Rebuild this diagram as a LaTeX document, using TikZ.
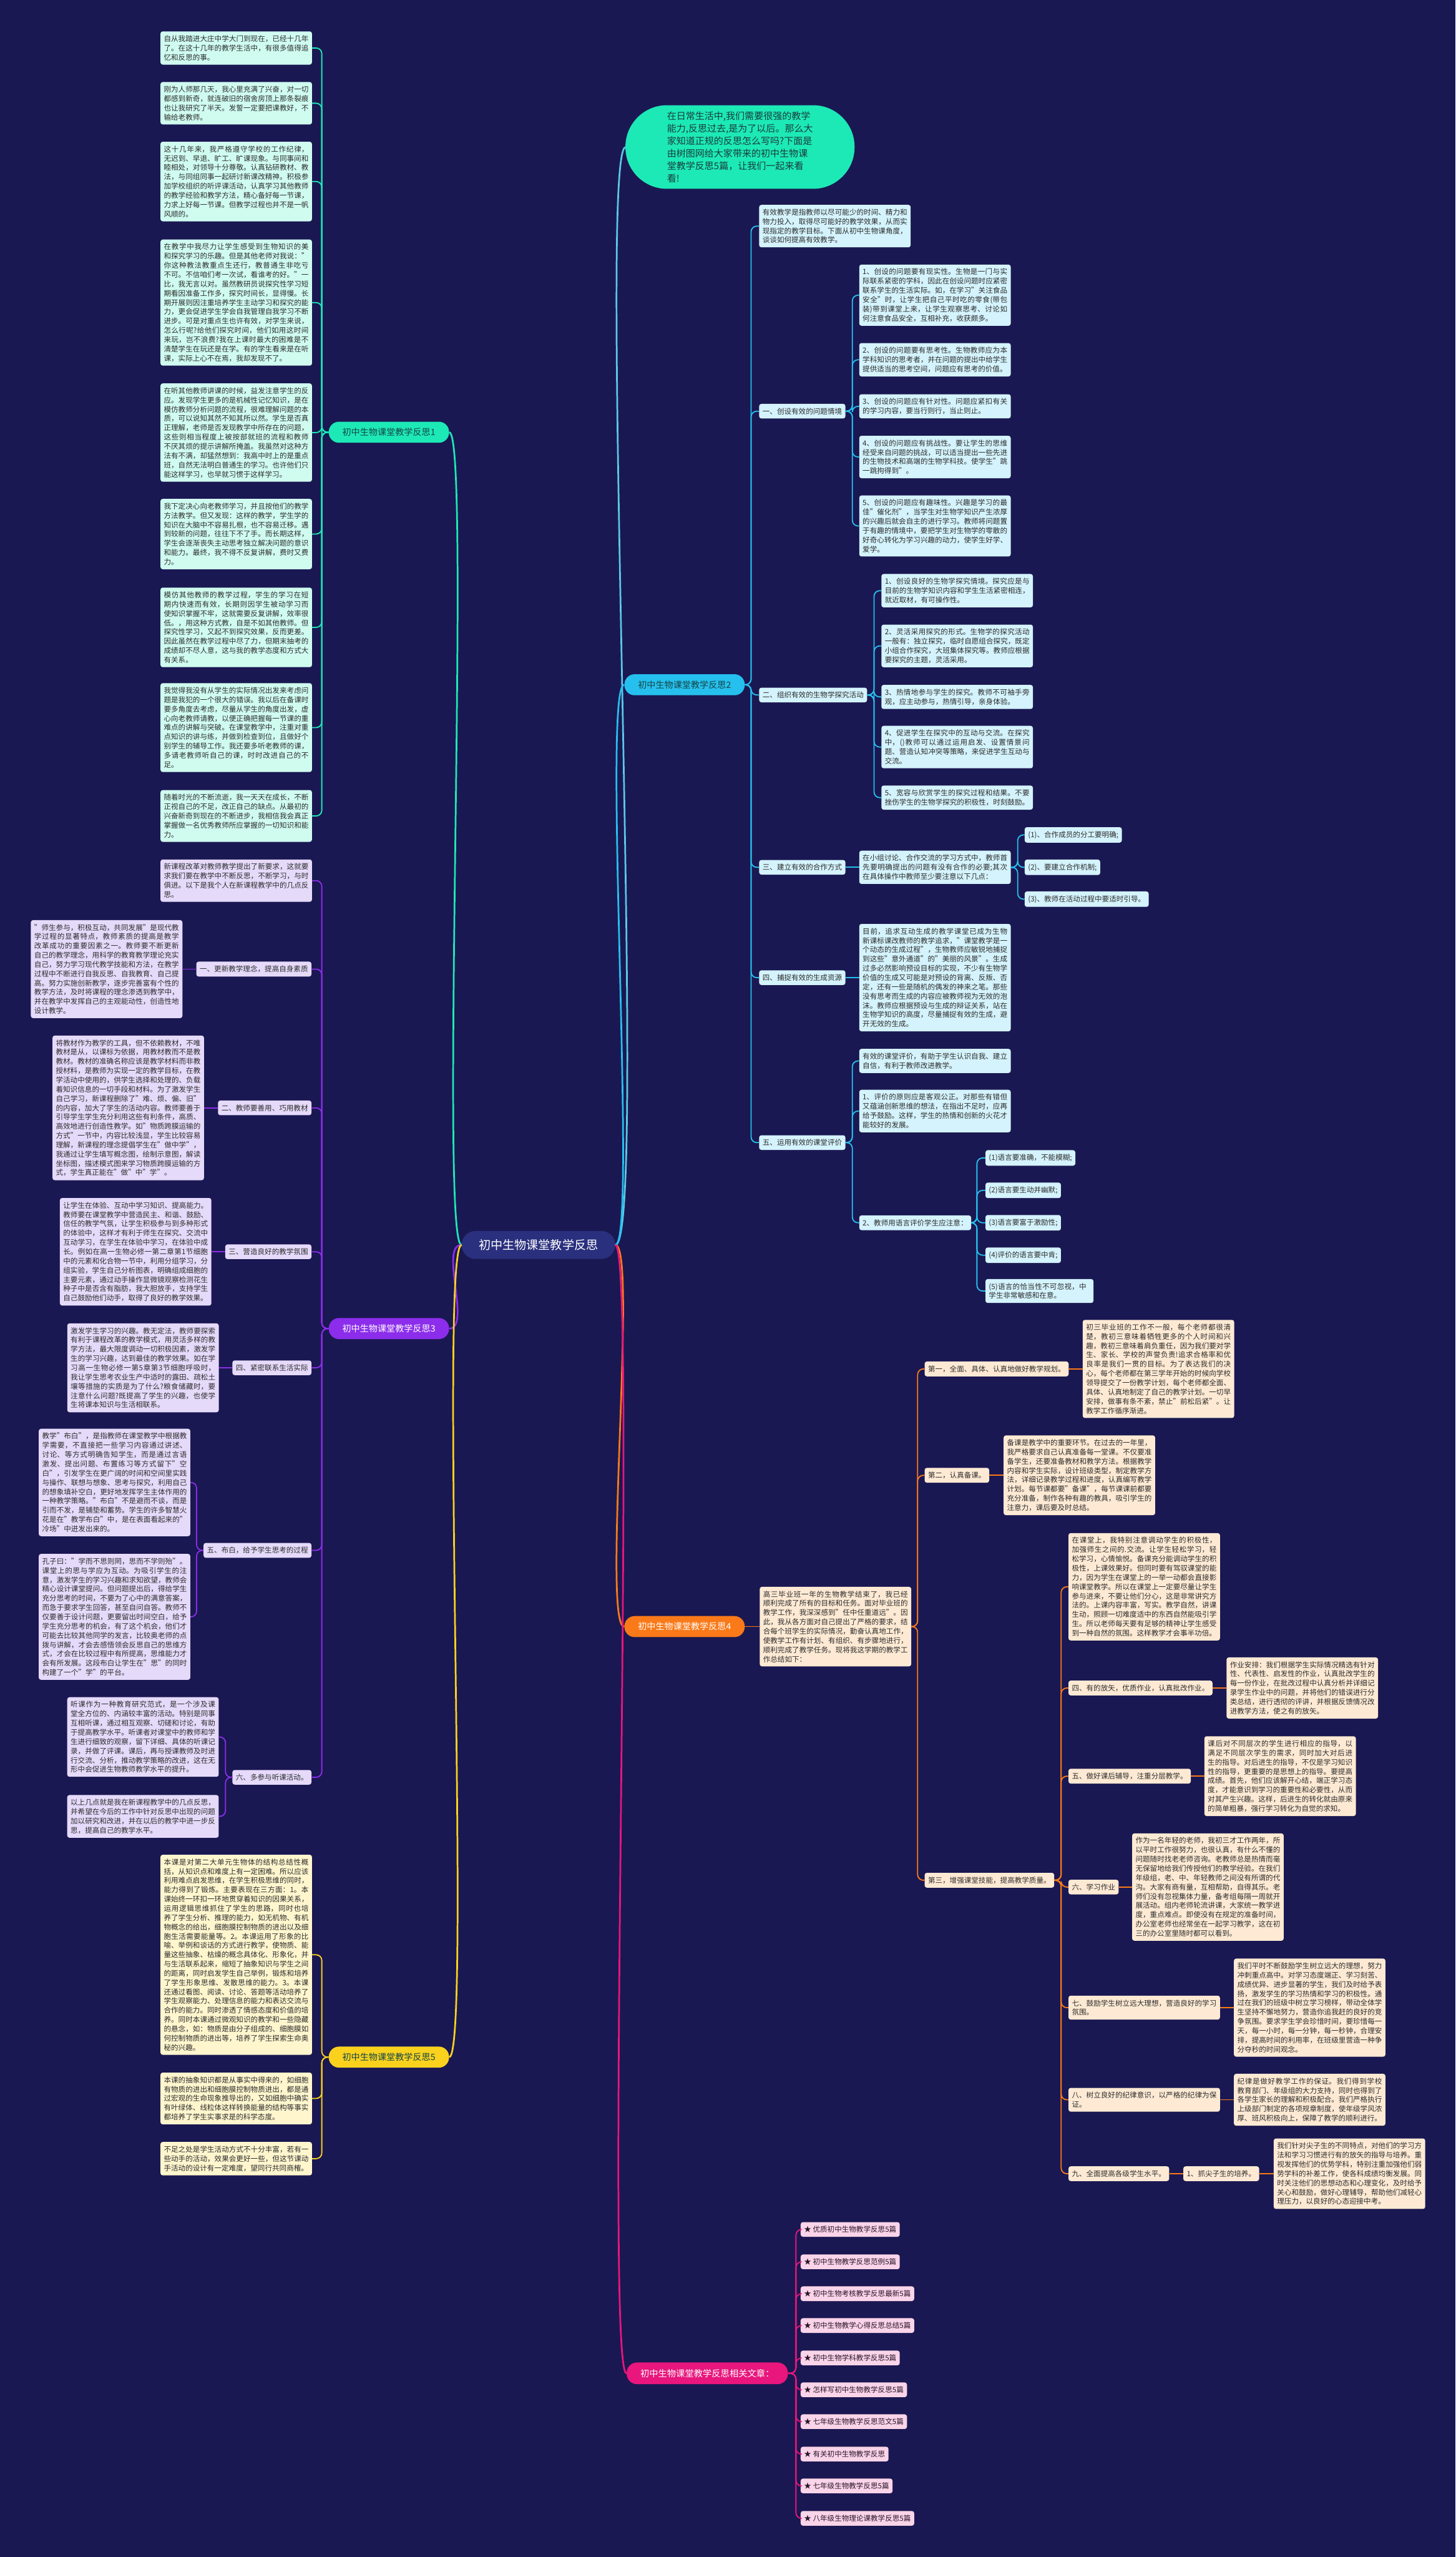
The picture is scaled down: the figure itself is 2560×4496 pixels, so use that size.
\documentclass[tikz,border=0pt]{standalone}
\usepackage{fontspec}
\setmainfont{Noto Sans CJK SC}
\XeTeXlinebreaklocale "zh"
\XeTeXlinebreakskip=0pt plus 1.2pt
\tolerance=9999
\emergencystretch=30pt
\hbadness=10000
\hfuzz=3pt
\definecolor{bgc}{RGB}{26,24,82}
\definecolor{txt}{RGB}{45,45,45}
\definecolor{rootc}{RGB}{42,48,125}
\definecolor{c0}{RGB}{90,200,230}
\definecolor{g1}{RGB}{29,233,182}
\definecolor{g1t}{RGB}{20,70,70}
\definecolor{f1}{RGB}{208,252,240}
\definecolor{g2}{RGB}{38,192,238}
\definecolor{f2}{RGB}{212,243,252}
\definecolor{g3}{RGB}{140,45,235}
\definecolor{f3}{RGB}{229,218,250}
\definecolor{g4}{RGB}{250,122,25}
\definecolor{f4}{RGB}{254,234,212}
\definecolor{g5}{RGB}{250,210,30}
\definecolor{f5}{RGB}{255,246,206}
\definecolor{g6}{RGB}{232,22,125}
\definecolor{f6}{RGB}{250,212,232}
\newcommand\fsn{\fontsize{12.7pt}{16.3pt}\selectfont}
\newcommand\fsl{\fontsize{15.5pt}{18pt}\selectfont}
\tikzset{
 box/.style={rounded corners=4pt, inner xsep=6pt, inner ysep=7pt, font=\fsn, text=txt},
 para/.style={box, text width=254.5pt, align=justify},
 pill/.style={rounded corners=18pt, minimum height=37pt, inner xsep=24pt, inner ysep=4pt, font=\fsl},
 mainln/.style={line width=3pt},
 subln/.style={line width=2pt, rounded corners=10pt},
}
\begin{document}
\begin{tikzpicture}[x=1pt,y=-1pt]
\fill[bgc] (0,0) rectangle (2560,4496);
\useasboundingbox (0,0) rectangle (2560,4496);

% ---------- root and intro ----------
\node[rounded corners=24pt, fill=rootc, text=white, minimum height=49pt, inner xsep=30pt, font=\fontsize{21pt}{24pt}\selectfont] (root) at (947,2189) {初中生物课堂教学反思};
\node[rounded corners=73pt, fill=g1, text={rgb,255:red,25;green,60;blue,60}, minimum width=403pt, minimum height=147pt, align=left, font=\fontsize{16.5pt}{22pt}\selectfont] (intro) at (1301.5,258.5)
 {在日常生活中,我们需要很强的教学\\能力,反思过去,是为了以后。那么大\\家知道正规的反思怎么写吗?下面是\\由树图网给大家带来的初中生物课\\堂教学反思5篇，让我们一起来看\\看!};

% ---------- branch 1 ----------
\node[pill, fill=g1, text=g1t, anchor=east] (b1) at (790,760) {初中生物课堂教学反思1};
\begin{scope}[every node/.style={para, fill=f1, anchor=north west}]
\node (l1a) at (282,55) {自从我踏进大庄中学大门到现在，已经十几年了。在这十几年的教学生活中，有很多值得追忆和反思的事。};
\node (l1b) at (282,144) {刚为人师那几天，我心里充满了兴奋，对一切都感到新奇，就连破旧的宿舍房顶上那条裂痕也让我研究了半天。发誓一定要把课教好，不输给老教师。};
\node (l1c) at (282,249) {这十几年来，我严格遵守学校的工作纪律，无迟到、早退、旷工、旷课现象。与同事间和睦相处，对领导十分尊敬。认真钻研教材、教法，与同组同事一起研讨新课改精神。积极参加学校组织的听评课活动，认真学习其他教师的教学经验和教学方法，精心备好每一节课，力求上好每一节课。但教学过程也并不是一帆风顺的。};
\node (l1d) at (282,421) {在教学中我尽力让学生感受到生物知识的美和探究学习的乐趣。但是其他老师对我说："你这种教法教重点生还行，教普通生非吃亏不可。不信咱们考一次试，看谁考的好。"一比，我无言以对。虽然教研员说探究性学习短期看因准备工作多，探究时间长，显得慢。长期开展则因注重培养学生主动学习和探究的能力，更会促进学生学会自我管理自我学习不断进步。可是对重点生也许有效，对学生来说，怎么行呢?给他们探究时间，他们如用这时间来玩，岂不浪费?我在上课时最大的困难是不清楚学生在玩还是在学。有的学生看来是在听课，实际上心不在焉，我却发现不了。};
\node (l1e) at (282,674) {在听其他教师讲课的时候，益发注意学生的反应。发现学生更多的是机械性记忆知识，是在模仿教师分析问题的流程，很难理解问题的本质，可以说知其然不知其所以然。学生是否真正理解，老师是否发现教学中所存在的问题，这些则相当程度上被按部就班的流程和教师不厌其烦的提示讲解所掩盖。我虽然对这种方法有不满，却猛然想到：我高中时上的是重点班，自然无法明白普通生的学习。也许他们只能这样学习，也早就习惯于这样学习。};
\node (l1f) at (282,877) {我下定决心向老教师学习，并且按他们的教学方法教学。但又发现：这样的教学，学生学的知识在大脑中不容易扎根，也不容易迁移。遇到较新的问题，往往下不了手。而长期这样，学生会逐渐丧失主动思考独立解决问题的意识和能力。最终，我不得不反复讲解，费时又费力。};
\node (l1g) at (282,1033) {模仿其他教师的教学过程，学生的学习在短期内快速而有效，长期则因学生被动学习而使知识掌握不牢，这就需要反复讲解，效率很低。，用这种方式教，自是不如其他教师。但探究性学习，又起不到探究效果，反而更差。因此虽然在教学过程中尽了力，但期末抽考的成绩却不尽人意，这与我的教学态度和方式大有关系。};
\node (l1h) at (282,1201) {我觉得我没有从学生的实际情况出发来考虑问题是我犯的一个很大的错误。我以后在备课时要多角度去考虑，尽量从学生的角度出发，虚心向老教师请教，以便正确把握每一节课的重难点的讲解与突破。在课堂教学中，注重对重点知识的讲与练，并做到检查到位，且做好个别学生的辅导工作。我还要多听老教师的课，多请老教师听自己的课，时时改进自己的不足。};
\node (l1i) at (282,1389) {随着时光的不断流逝，我一天天在成长，不断正视自己的不足，改正自己的缺点。从最初的兴奋新奇到现在的不断进步，我相信我会真正掌握做一名优秀教师所应掌握的一切知识和能力。};
\end{scope}

% ---------- branch 3 ----------
\node[pill, fill=g3, text=white, anchor=east] (b3) at (790,2336) {初中生物课堂教学反思3};
\node[para, fill=f3, anchor=north west] (l3i) at (282,1511) {新课程改革对教师教学提出了新要求，这就要求我们要在教学中不断反思，不断学习，与时俱进。以下是我个人在新课程教学中的几点反思。};
\begin{scope}[every node/.style={box, fill=f3, anchor=east}]
\node (s31) at (548,1704) {一、更新教学理念，提高自身素质};
\node (s32) at (548,1948) {二、教师要善用、巧用教材};
\node (s33) at (548,2201) {三、营造良好的教学氛围};
\node (s34) at (548,2405) {四、紧密联系生活实际};
\node (s35) at (548,2726) {五、布白，给予学生思考的过程};
\node (s36) at (548,3125) {六、多参与听课活动。};
\end{scope}
\node[para, fill=f3, anchor=east] (l31) at (321,1704) {"师生参与，积极互动，共同发展"是现代教学过程的显著特点，教师素质的提高是教学改革成功的重要因素之一。教师要不断更新自己的教学理念，用科学的教育教学理论充实自己，努力学习现代教学技能和方法，在教学过程中不断进行自我反思、自我教育、自己提高。努力实施创新教学，逐步完善富有个性的教学方法，及时将课程的理念渗透到教学中，并在教学中发挥自己的主观能动性，创造性地设计教学。};
\node[para, fill=f3, anchor=east] (l32) at (359,1948) {将教材作为教学的工具，但不依赖教材，不唯教材是从，以课标为依据，用教材教而不是教教材。教材的准确名称应该是教学材料而非教授材料，是教师为实现一定的教学目标，在教学活动中使用的，供学生选择和处理的、负载着知识信息的一切手段和材料。为了激发学生自己学习，新课程删除了"难、烦、偏、旧"的内容，加大了学生的活动内容。教师要善于引导学生学生充分利用这些有利条件，高质、高效地进行创造性教学。如"物质跨膜运输的方式"一节中，内容比较浅显，学生比较容易理解，新课程的理念提倡学生在"做中学"，我通过让学生填写概念图，绘制示意图，解读坐标图，描述模式图来学习物质跨膜运输的方式，学生真正能在"做"中"学"。};
\node[para, fill=f3, anchor=east] (l33) at (372,2201) {让学生在体验、互动中学习知识、提高能力。教师要在课堂教学中营造民主、和谐、鼓励、信任的教学气氛，让学生积极参与到多种形式的体验中，这样才有利于师生在探究、交流中互动学习，在学生在体验中学习，在体验中成长。例如在高一生物必修一第二章第1节细胞中的元素和化合物一节中，利用分组学习，分组实验，学生自己分析图表，明确组成细胞的主要元素，通过动手操作显微镜观察检测花生种子中是否含有脂肪，我大胆放手，支持学生自己鼓励他们动手，取得了良好的教学效果。};
\node[para, fill=f3, anchor=east] (l34) at (385,2405) {激发学生学习的兴趣。教无定法，教师要探索有利于课程改革的教学模式，用灵活多样的教学方法，最大限度调动一切积极因素，激发学生的学习兴趣，达到最佳的教学效果。如在学习高一生物必修一第5章第3节细胞呼吸时，我让学生思考农业生产中适时的露田、疏松土壤等措施的实质是为了什么?粮食储藏时，要注意什么问题?既提高了学生的兴趣，也使学生将课本知识与生活相联系。};
\node[para, fill=f3, anchor=north west] (l35a) at (68,2512) {教学"布白"，是指教师在课堂教学中根据教学需要，不直接把一些学习内容通过讲述、讨论、等方式明确告知学生，而是通过言语激发、提出问题、布置练习等方式留下"空白"，引发学生在更广阔的时间和空间里实践与操作、联想与想象、思考与探究，利用自己的想象填补空白，更好地发挥学生主体作用的一种教学策略。"布白"不是避而不谈，而是引而不发，是铺垫和蓄势。学生的许多智慧火花是在"教学布白"中，是在表面看起来的"冷场"中迸发出来的。};
\node[para, fill=f3, anchor=north west] (l35b) at (68,2732) {孔子曰："学而不思则罔，思而不学则殆"。课堂上的思与学应为互动。为吸引学生的注意，激发学生的学习兴趣和求知欲望，教师会精心设计课堂提问。但问题提出后，得给学生充分思考的时间，不要为了心中的满意答案，而急于要求学生回答，甚至自问自答。教师不仅要善于设计问题，更要留出时间空白，给予学生充分思考的机会，有了这个机会，他们才可能去比较其他同学的发言，比较奥老师的点拨与讲解，才会去感悟领会反思自己的思维方式，才会在比较过程中有所提高，思维能力才会有所发展。这段布白让学生在"思"的同时构建了一个"学"的平台。};
\node[para, fill=f3, anchor=north west] (l36a) at (118,2984) {听课作为一种教育研究范式，是一个涉及课堂全方位的、内涵较丰富的活动。特别是同事互相听课，通过相互观察、切磋和讨论，有助于提高教学水平。听课者对课堂中的教师和学生进行细致的观察，留下详细、具体的听课记录，并做了评课。课后，再与授课教师及时进行交流、分析，推动教学策略的改进，这在无形中会促进生物教师教学水平的提升。};
\node[para, fill=f3, anchor=north west] (l36b) at (118,3156) {以上几点就是我在新课程教学中的几点反思，并希望在今后的工作中针对反思中出现的问题加以研究和改进，并在以后的教学中进一步反思，提高自己的教学水平。};

% ---------- branch 5 ----------
\node[pill, fill=g5, text=g1t, anchor=east] (b5) at (790,3617) {初中生物课堂教学反思5};
\begin{scope}[every node/.style={para, fill=f5, anchor=north west}]
\node (l5a) at (282,3261) {本课是对第二大单元生物体的结构总结性概括，从知识点和难度上有一定困难。所以应该利用难点启发思维，在学生积极思维的同时，能力得到了锻炼。主要表现在三方面：1。本课始终一环扣一环地贯穿着知识的因果关系，运用逻辑思维抓住了学生的思路，同时也培养了学生分析、推理的能力，如无机物、有机物概念的给出，细胞膜控制物质的进出以及细胞生活需要能量等。2。本课运用了形象的比喻、举例和谈话的方式进行教学，使物质、能量这些抽象、枯燥的概念具体化、形象化，并与生活联系起来，缩短了抽象知识与学生之间的距离，同时启发学生自己举例，锻炼和培养了学生形象思维、发散思维的能力。3。本课还通过看图、阅读、讨论、答题等活动培养了学生观察能力、处理信息的能力和表达交流与合作的能力。同时渗透了情感态度和价值的培养。同时本课通过微观知识的教学和一些隐藏的悬念，如：物质是由分子组成的、细胞膜如何控制物质的进出等，培养了学生探索生命奥秘的兴趣。};
\node (l5b) at (282,3644) {本课的抽象知识都是从事实中得来的，如细胞有物质的进出和细胞膜控制物质进出，都是通过宏观的生命现象推导出的，又如细胞中确实有叶绿体、线粒体这样转换能量的结构等事实都培养了学生实事求是的科学态度。};
\node (l5c) at (282,3766) {不足之处是学生活动方式不十分丰富，若有一些动手的活动，效果会更好一些，但这节课动手活动的设计有一定难度，望同行共同商榷。};
\end{scope}

% ---------- branch 2 ----------
\node[pill, fill=g2, text=g1t, anchor=west] (b2) at (1098,1204) {初中生物课堂教学反思2};
\node[para, fill=f2, anchor=north west] (l2i) at (1335,360) {有效教学是指教师以尽可能少的时间、精力和物力投入，取得尽可能好的教学效果，从而实现指定的教学目标。下面从初中生物课角度，谈谈如何提高有效教学。};
\begin{scope}[every node/.style={box, fill=f2, anchor=west}]
\node (s21) at (1335,723) {一、创设有效的问题情境};
\node (s22) at (1335,1222) {二、组织有效的生物学探究活动};
\node (s23) at (1335,1525) {三、建立有效的合作方式};
\node (s24) at (1335,1719) {四、捕捉有效的生成资源};
\node (s25) at (1335,2009) {五、运用有效的课堂评价};
\node (l23a) at (1802,1468) {(1)、合作成员的分工要明确;};
\node (l23b) at (1802,1525) {(2)、要建立合作机制;};
\node (l23c) at (1802,1581) {(3)、教师在活动过程中要适时引导。};
\node (l25c) at (1511,2150) {2、教师用语言评价学生应注意：};
\node (l25c1) at (1733,2036) {(1)语言要准确，不能模糊;};
\node (l25c2) at (1733,2093) {(2)语言要生动并幽默;};
\node (l25c3) at (1733,2150) {(3)语言要富于激励性;};
\node (l25c4) at (1733,2207) {(4)评价的语言要中肯;};
\end{scope}
\node[box, fill=f2, anchor=west, text width=178pt, align=left] (l25c5) at (1733,2270) {(5)语言的恰当性不可忽视，中学生非常敏感和在意。};
\begin{scope}[every node/.style={para, fill=f2, anchor=north west}]
\node (l21a) at (1511,465) {1、创设的问题要有现实性。生物是一门与实际联系紧密的学科，因此在创设问题时应紧密联系学生的生活实际。如，在学习"关注食品安全"时，让学生把自己平时吃的零食(带包装)带到课堂上来，让学生观察思考、讨论如何注意食品安全，互相补充，收获颇多。};
\node (l21b) at (1511,603) {2、创设的问题要有思考性。生物教师应为本学科知识的思考者，并在问题的提出中给学生提供适当的思考空间，问题应有思考的价值。};
\node (l21c) at (1511,693) {3、创设的问题应有针对性。问题应紧扣有关的学习内容，要当行则行，当止则止。};
\node (l21d) at (1511,766) {4、创设的问题应有挑战性。要让学生的思维经受来自问题的挑战，可以适当提出一些先进的生物技术和高端的生物学科技。使学生"跳一跳拘得到"。};
\node (l21e) at (1511,871) {5、创设的问题应有趣味性。兴趣是学习的最佳"催化剂"，当学生对生物学知识产生浓厚的兴趣后就会自主的进行学习。教师将问题置于有趣的情境中，要把学生对生物学的零散的好奇心转化为学习兴趣的动力，使学生好学、爱学。};
\node (l22a) at (1550,1009) {1、创设良好的生物学探究情境。探究应是与目前的生物学知识内容和学生生活紧密相连，就近取材，有可操作性。};
\node (l22b) at (1550,1098) {2、灵活采用探究的形式。生物学的探究活动一般有：独立探究，临时自愿组合探究，既定小组合作探究，大班集体探究等。教师应根据要探究的主题，灵活采用。};
\node (l22c) at (1550,1204) {3、热情地参与学生的探究。教师不可袖手旁观，应主动参与，热情引导，亲身体验。};
\node (l22d) at (1550,1276) {4、促进学生在探究中的互动与交流。在探究中，()教师可以通过运用启发、设置情景问题、营造认知冲突等策略，来促进学生互动与交流。};
\node (l22e) at (1550,1381) {5、宽容与欣赏学生的探究过程和结果。不要挫伤学生的生物学探究的积极性，时刻鼓励。};
\node (l25a) at (1511,1844) {有效的课堂评价，有助于学生认识自我、建立自信，有利于教师改进教学。};
\node (l25b) at (1511,1916) {1、评价的原则应是客观公正。对那些有错但又蕴涵创新思维的想法，在指出不足时，应再给予鼓励。这样，学生的热情和创新的火花才能较好的发展。};
\end{scope}
\node[para, fill=f2, anchor=west] (l23) at (1511,1525) {在小组讨论、合作交流的学习方式中，教师首先要明确提出的问题有没有合作的必要;其次在具体操作中教师至少要注意以下几点：};
\node[para, fill=f2, anchor=west] (l24) at (1511,1719) {目前，追求互动生成的教学课堂已成为生物新课标课改教师的教学追求，"课堂教学是一个动态的生成过程"，生物教师应敏锐地捕捉到这些"意外通道"的"美丽的风景"。生成过多必然影响预设目标的实现，不少有生物学价值的生成又可能是对预设的背离、反叛、否定，还有一些是随机的偶发的神来之笔。那些没有思考而生成的内容应被教师视为无效的泡沫。教师应根据预设与生成的辩证关系，站在生物学知识的高度，尽量捕捉有效的生成，避开无效的生成。};

% ---------- branch 4 ----------
\node[pill, fill=g4, text=white, anchor=west] (b4) at (1098,2860) {初中生物课堂教学反思4};
\node[para, fill=f4, anchor=west] (r4) at (1336,2860) {高三毕业班一年的生物教学结束了，我已经顺利完成了所有的目标和任务。面对毕业班的教学工作，我深深感到"任中任重道远"。因此，我从各方面对自己提出了严格的要求，结合每个班学生的实际情况，勤奋认真地工作，使教学工作有计划、有组织、有步骤地进行，顺利完成了教学任务。现将我这学期的教学工作总结如下：};
\begin{scope}[every node/.style={box, fill=f4, anchor=west}]
\node (s41) at (1626,2407) {第一，全面、具体、认真地做好教学规划。};
\node (s42) at (1626,2594) {第二，认真备课。};
\node (s43) at (1626,3306) {第三，增强课堂技能，提高教学质量。};
\node (s44) at (1879,2968) {四、有的放矢，优质作业，认真批改作业。};
\node (s45) at (1879,3123) {五、做好课后辅导，注重分层教学。};
\node (s46) at (1879,3318) {六、学习作业};
\node (s49) at (1879,3822) {九、全面提高各级学生水平。};
\node (s49a) at (2081,3822) {1、抓尖子生的培养。};
\end{scope}
\begin{scope}[every node/.style={para, fill=f4, anchor=west}]
\node (s47) at (1879,3530) {七、鼓励学生树立远大理想，营造良好的学习氛围。};
\node (s48) at (1879,3692) {八、树立良好的纪律意识，以严格的纪律为保证。};
\node (t41) at (1904,2407) {初三毕业班的工作不一般，每个老师都很清楚，教初三意味着牺牲更多的个人时间和兴趣，教初三意味着肩负重任，因为我们要对学生、家长、学校的声誉负责!追求合格率和优良率是我们一贯的目标。为了表达我们的决心，每个老师都在第三学年开始的时候向学校领导提交了一份教学计划，每个老师都全面、具体、认真地制定了自己的教学计划。一切早安排，做事有条不紊，禁止"前松后紧"。让教学工作循序渐进。};
\node (t42) at (1765,2594) {备课是教学中的重要环节。在过去的一年里，我严格要求自己认真准备每一堂课。不仅要准备学生，还要准备教材和教学方法。根据教学内容和学生实际，设计班级类型，制定教学方法，详细记录教学过程和进度，认真编写教学计划。每节课都要"备课"，每节课课前都要充分准备，制作各种有趣的教具，吸引学生的注意力，课后要及时总结。};
\node (t43a) at (1879,2790) {在课堂上，我特别注意调动学生的积极性，加强师生之间的.交流。让学生轻松学习，轻松学习，心情愉悦。备课充分能调动学生的积极性，上课效果好。但同时要有驾驭课堂的能力，因为学生在课堂上的一举一动都会直接影响课堂教学。所以在课堂上一定要尽量让学生参与进来，不要让他们分心，这是非常讲究方法的。上课内容丰富，写实。教学自然，讲课生动，照顾一切难度适中的东西自然能吸引学生。所以老师每天要有足够的精神让学生感受到一种自然的氛围。这样教学才会事半功倍。};
\node (t44) at (2157,2968) {作业安排：我们根据学生实际情况精选有针对性、代表性、启发性的作业，认真批改学生的每一份作业，在批改过程中认真分析并详细记录学生作业中的问题，并将他们的错误进行分类总结，进行透彻的评讲，并根据反馈情况改进教学方法，使之有的放矢。};
\node (t45) at (2118,3123) {课后对不同层次的学生进行相应的指导，以满足不同层次学生的需求，同时加大对后进生的指导。对后进生的指导，不仅是学习知识性的指导，更重要的是思想上的指导。要提高成绩。首先，他们应该解开心结，端正学习态度，才能意识到学习的重要性和必要性，从而对其产生兴趣。这样，后进生的转化就由原来的简单粗暴，强行学习转化为自觉的求知。};
\node (t46) at (1991,3318) {作为一名年轻的老师，我初三才工作两年，所以平时工作很努力，也很认真，有什么不懂的问题随时找老老师咨询。老教师总是热情而毫无保留地给我们传授他们的教学经验。在我们年级组，老、中、年轻教师之间没有所谓的代沟。大家有商有量，互相帮助，自得其乐。老师们没有忽视集体力量，备考组每隔一周就开展活动。组内老师轮流讲课，大家统一教学进度，重点难点。即使没有在规定的准备时间，办公室老师也经常坐在一起学习教学，这在初三的办公室里随时都可以看到。};
\node (t47) at (2170,3530) {我们平时不断鼓励学生树立远大的理想，努力冲刺重点高中。对学习态度端正、学习刻苦、成绩优异、进步显著的学生，我们及时给予表扬，激发学生的学习热情和学习的积极性。通过在我们的班级中树立学习榜样，带动全体学生坚持不懈地努力，营造你追我赶的良好的竞争氛围。要求学生学会珍惜时间，要珍惜每一天，每一小时，每一分钟，每一秒钟，合理安排，提高时间的利用率，在班级里营造一种争分夺秒的时间观念。};
\node (t48) at (2170,3692) {纪律是做好教学工作的保证。我们得到学校教育部门、年级组的大力支持，同时也得到了各学生家长的理解和积极配合。我们严格执行上级部门制定的各项规章制度，使年级学风浓厚、班风积极向上，保障了教学的顺利进行。};
\node (t49) at (2240,3822) {我们针对尖子生的不同特点，对他们的学习方法和学习习惯进行有的放矢的指导与培养。重视发挥他们的优势学科，特别注重加强他们弱势学科的补差工作，使各科成绩均衡发展。同时关注他们的思想动态和心理变化，及时给予关心和鼓励，做好心理辅导，帮助他们减轻心理压力，以良好的心态迎接中考。};
\end{scope}

% ---------- related articles ----------
\node[pill, fill=g6, text=white, anchor=west, minimum height=38pt, font=\fontsize{15.7pt}{18pt}\selectfont] (b6) at (1102,4173) {初中生物课堂教学反思相关文章：};
\begin{scope}[every node/.style={box, fill=f6, anchor=west, text={rgb,255:red,40;green,20;blue,40}}]
\node (r1) at (1408,3920) {★ 优质初中生物教学反思5篇};
\node (r2) at (1408,3977) {★ 初中生物教学反思范例5篇};
\node (r3) at (1408,4033) {★ 初中生物考核教学反思最新5篇};
\node (r4b) at (1408,4089) {★ 初中生物教学心得反思总结5篇};
\node (r5) at (1408,4146) {★ 初中生物学科教学反思5篇};
\node (r6) at (1408,4202) {★ 怎样写初中生物教学反思5篇};
\node (r7) at (1408,4258) {★ 七年级生物教学反思范文5篇};
\node (r8) at (1408,4315) {★ 有关初中生物教学反思};
\node (r9) at (1408,4371) {★ 七年级生物教学反思5篇};
\node (r10) at (1408,4428) {★ 八年级生物理论课教学反思5篇};
\end{scope}

% ---------- connectors ----------
\draw[mainln, c0] (root.east) .. controls +(60,0) and +(-50,20) .. (intro.west);
\draw[mainln, g1] (root.west) .. controls +(-40,0) and +(40,0) .. (b1.east);
\draw[mainln, g3] (root.west) .. controls +(-40,0) and +(40,0) .. (b3.east);
\draw[mainln, g5] (root.west) .. controls +(-40,0) and +(40,0) .. (b5.east);
\draw[mainln, g2] (root.east) .. controls +(40,0) and +(-40,0) .. (b2.west);
\draw[mainln, g4] (root.east) .. controls +(40,0) and +(-40,0) .. (b4.west);
\draw[mainln, g6] (root.east) .. controls +(40,0) and +(-40,0) .. (b6.west);

\foreach \n in {l1a,l1b,l1c,l1d,l1e,l1f,l1g,l1h,l1i}
  \draw[subln, g1] (b1.west) -- ++(-12,0) |- (\n.east);
\foreach \n in {l3i,s31,s32,s33,s34,s35,s36}
  \draw[subln, g3] (b3.west) -- ++(-12,0) |- (\n.east);
\draw[subln, g3] (s31.west) -- (l31.east);
\draw[subln, g3] (s32.west) -- (l32.east);
\draw[subln, g3] (s33.west) -- (l33.east);
\draw[subln, g3] (s34.west) -- (l34.east);
\foreach \n in {l35a,l35b}
  \draw[subln, g3] (s35.west) -- ++(-12,0) |- (\n.east);
\foreach \n in {l36a,l36b}
  \draw[subln, g3] (s36.west) -- ++(-12,0) |- (\n.east);
\foreach \n in {l5a,l5b,l5c}
  \draw[subln, g5] (b5.west) -- ++(-12,0) |- (\n.east);

\foreach \n in {l2i,s21,s22,s23,s24,s25}
  \draw[subln, g2] (b2.east) -- ++(11,0) |- (\n.west);
\foreach \n in {l21a,l21b,l21c,l21d,l21e}
  \draw[subln, g2] (s21.east) -- ++(12,0) |- (\n.west);
\foreach \n in {l22a,l22b,l22c,l22d,l22e}
  \draw[subln, g2] (s22.east) -- ++(12,0) |- (\n.west);
\draw[subln, g2] (s23.east) -- (l23.west);
\foreach \n in {l23a,l23b,l23c}
  \draw[subln, g2] (l23.east) -- ++(12,0) |- (\n.west);
\draw[subln, g2] (s24.east) -- (l24.west);
\foreach \n in {l25a,l25b,l25c}
  \draw[subln, g2] (s25.east) -- ++(12,0) |- (\n.west);
\foreach \n in {l25c1,l25c2,l25c3,l25c4,l25c5}
  \draw[subln, g2] (l25c.east) -- ++(10,0) |- (\n.west);

\draw[subln, g4] (b4.east) -- (r4.west);
\foreach \n in {s41,s42,s43}
  \draw[subln, g4] (r4.east) -- ++(11,0) |- (\n.west);
\draw[subln, g4] (s41.east) -- (t41.west);
\draw[subln, g4] (s42.east) -- (t42.west);
\foreach \n in {t43a,s44,s45,s46,s47,s48,s49}
  \draw[subln, g4] (s43.east) -- ++(12,0) |- (\n.west);
\draw[subln, g4] (s44.east) -- (t44.west);
\draw[subln, g4] (s45.east) -- (t45.west);
\draw[subln, g4] (s46.east) -- (t46.west);
\draw[subln, g4] (s47.east) -- (t47.west);
\draw[subln, g4] (s48.east) -- (t48.west);
\draw[subln, g4] (s49.east) -- (s49a.west);
\draw[subln, g4] (s49a.east) -- (t49.west);

\foreach \n in {r1,r2,r3,r4b,r5,r6,r7,r8,r9,r10}
  \draw[subln, g6] (b6.east) -- ++(14,0) |- (\n.west);
\end{tikzpicture}
\end{document}
